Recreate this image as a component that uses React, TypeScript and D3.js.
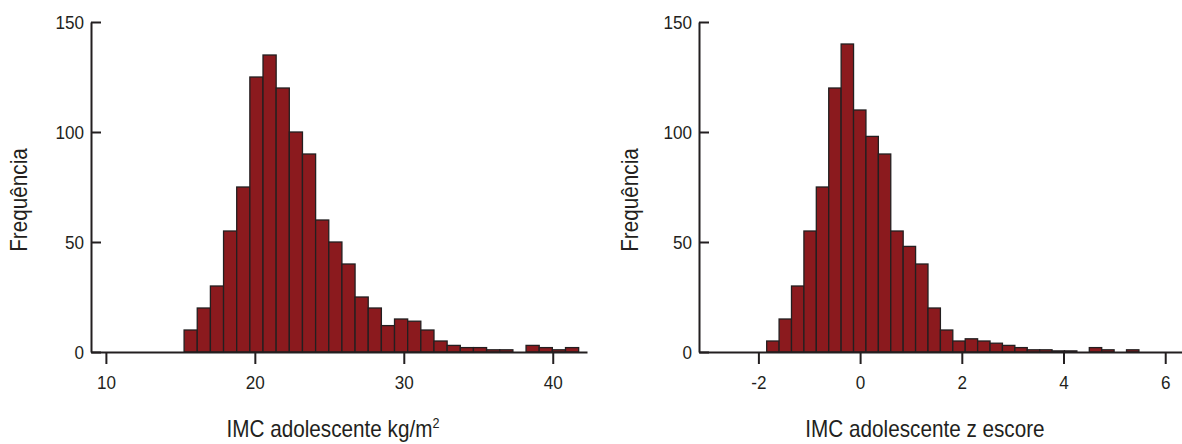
import React, { useEffect, useRef } from 'react';
import * as d3 from 'd3';

// IMC (kg/m2) histogram counts
const bmiCounts = [10, 20, 30, 55, 75, 125, 135, 120, 100, 90, 60, 50, 40, 25, 20, 12, 15, 14, 10, 5, 3, 2, 2, 1, 1, 0, 3, 2, 1, 2];
const bmiBinStart = 15.25;
const bmiBinWidth = 0.883;
const bmiTicks = [10, 20, 30, 40];

// IMC z escore histogram counts
const zCounts = [5, 15, 30, 55, 75, 120, 140, 110, 98, 90, 55, 48, 40, 20, 10, 5, 6, 5, 4, 3, 2, 1, 1, 0.5, 0.5, 0, 2, 1, 0, 1];
const zBinStart = -1.837;
const zBinWidth = 0.244;
const zTicks = [-2, 0, 2, 4, 6];

const yTicks = [0, 50, 100, 150];

const FONT = "'Liberation Sans', Arial, sans-serif";
const INK = '#231f20';
const SQUEEZE = 0.9; // no condensed face installed, so narrow the glyphs by hand

const styleText = (sel, size) => sel
    .attr('fill', INK)
    .style('font-family', FONT)
    .style('font-size', `${size}px`);

const drawPanel = (svg, { counts, binStart, binWidth, xDomain, xRange, ticks, label, sup, labelX, yLabelX }) => {
    const x = d3.scaleLinear().domain(xDomain).range(xRange);
    const y = d3.scaleLinear().domain([0, 150]).range([352, 22]);
    const g = svg.append('g');

    // bars
    g.append('g')
        .selectAll('rect')
        .data(counts.map((c, i) => ({ c, i })).filter(d => d.c > 0))
        .join('rect')
        .attr('x', d => x(binStart + d.i * binWidth))
        .attr('width', x(binStart + binWidth) - x(binStart))
        .attr('y', d => y(d.c))
        .attr('height', d => y(0) - y(d.c))
        .attr('fill', '#8b1a1e')
        .attr('stroke', INK)
        .attr('stroke-width', 1.3);

    // x axis
    g.append('g')
        .attr('transform', `translate(0,${y(0)})`)
        .call(d3.axisBottom(x).tickValues(ticks).tickSizeInner(12).tickSizeOuter(0).tickPadding(12).tickFormat(d => String(d)))
        .call(a => a.select('.domain').attr('stroke', INK).attr('stroke-width', 2))
        .call(a => a.selectAll('.tick line').attr('stroke', INK).attr('stroke-width', 2))
        .call(a => a.selectAll('.tick text').call(styleText, 19)
            .attr('transform', `scale(${SQUEEZE},1)`));

    // y axis
    g.append('g')
        .attr('transform', `translate(${xRange[0]},0)`)
        .call(d3.axisLeft(y).tickValues(yTicks).tickSizeInner(-10).tickSizeOuter(0).tickPadding(7))
        .call(a => a.select('.domain').attr('stroke', INK).attr('stroke-width', 2))
        .call(a => a.selectAll('.tick line').attr('stroke', INK).attr('stroke-width', 2))
        .call(a => a.selectAll('.tick text').call(styleText, 19)
            .attr('x', -7 / SQUEEZE)
            .attr('transform', `scale(${SQUEEZE},1)`));

    // axis titles
    const t = g.append('text')
        .attr('transform', `translate(${labelX},437) scale(${SQUEEZE},1)`)
        .attr('text-anchor', 'middle')
        .call(styleText, 23)
        .text(label);
    if (sup) {
        t.append('tspan').attr('dy', -9).style('font-size', '14px').text(sup);
    }

    g.append('text')
        .attr('transform', `translate(${yLabelX},200) rotate(-90) scale(${SQUEEZE},1)`)
        .attr('text-anchor', 'middle')
        .call(styleText, 23)
        .text('Frequência');
};

const App = () => {
    const svgRef = useRef(null);

    useEffect(() => {
        const svg = d3.select(svgRef.current);
        svg.selectAll('*').remove();

        drawPanel(svg, {
            counts: bmiCounts, binStart: bmiBinStart, binWidth: bmiBinWidth,
            xDomain: [9, 42.3], xRange: [91, 587], ticks: bmiTicks,
            label: 'IMC adolescente kg/m', sup: '2', labelX: 333, yLabelX: 27,
        });
        drawPanel(svg, {
            counts: zCounts, binStart: zBinStart, binWidth: zBinWidth,
            xDomain: [-3.168, 6.33], xRange: [699, 1182], ticks: zTicks,
            label: 'IMC adolescente z escore', sup: null, labelX: 925, yLabelX: 638,
        });
    }, []);

    return (
        <svg ref={svgRef} width={1182} height={444}
            style={{ position: 'absolute', left: 0, top: 0, background: '#fff' }} />
    );
};

export default App;
